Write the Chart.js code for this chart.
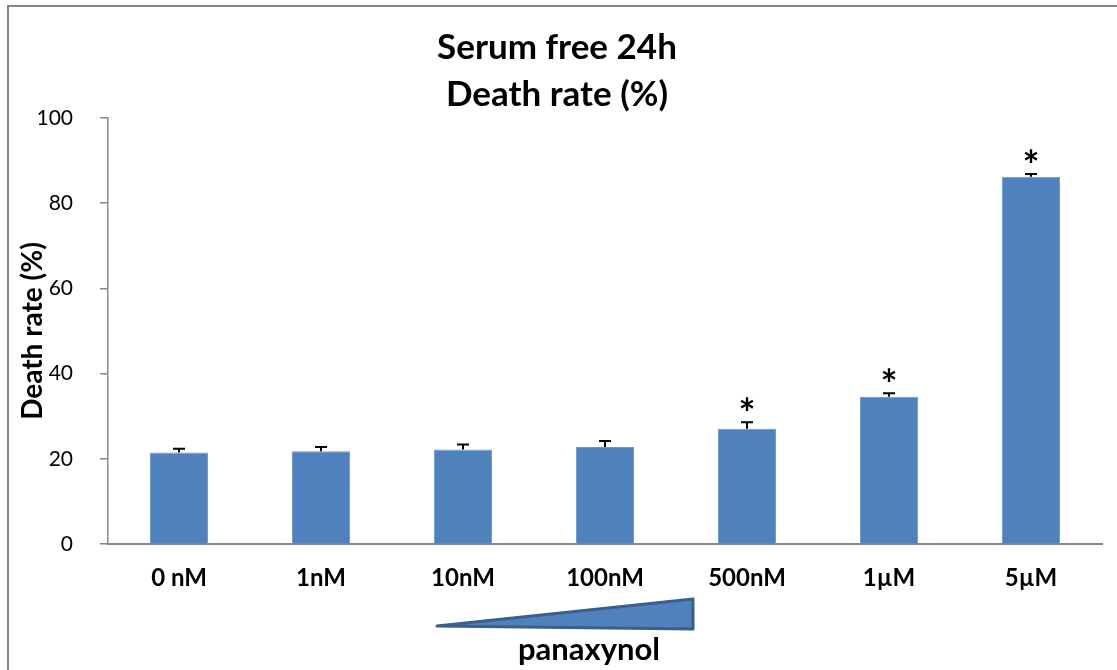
<!DOCTYPE html>
<html>
<head>
<meta charset="utf-8">
<script src="https://cdn.jsdelivr.net/npm/chart.js@4"></script>
<style>
  body { margin: 0; background: #fff; }
  canvas { display: block; }
</style>
</head>
<body>
<canvas id="deathChart" width="1117" height="670"></canvas>
<script>
// data
const categories = ['0 nM', '1nM', '10nM', '100nM', '500nM', '1µM', '5µM'];
const deathRate = [21.5, 21.8, 22.2, 22.8, 27.1, 34.6, 86.2];
const errorSD = [0.9, 1.0, 1.2, 1.4, 1.5, 0.8, 0.6];
const significant = [false, false, false, false, true, true, true];
const yTicks = [0, 20, 40, 60, 80, 100];

const FONT = 'Lato, "Open Sans", sans-serif';

// error bars + stars on top of each bar
const errorBars = {
    id: 'errorBars',
    afterDatasetsDraw(chart) {
        const c = chart.ctx;
        const y = chart.scales.y;
        const meta = chart.getDatasetMeta(0);
        c.save();
        c.strokeStyle = '#000';
        c.lineWidth = 2;
        meta.data.forEach((bar, i) => {
            const top = y.getPixelForValue(deathRate[i]);
            const cap = y.getPixelForValue(deathRate[i] + errorSD[i]);
            c.beginPath();
            c.moveTo(bar.x, top);
            c.lineTo(bar.x, cap);
            c.moveTo(bar.x - 6, cap);
            c.lineTo(bar.x + 6, cap);
            c.stroke();
            if (significant[i]) {
                c.font = 'bold 40px ' + FONT;
                c.fillStyle = '#000';
                c.textAlign = 'center';
                const m = c.measureText('*');
                const base = cap - 18 + (m.actualBoundingBoxAscent - m.actualBoundingBoxDescent) / 2;
                c.fillText('*', bar.x, base);
            }
        });
        c.restore();
    }
};

// outer frame, dose triangle and "panaxynol" label
const decorations = {
    id: 'decorations',
    afterDraw(chart) {
        const c = chart.ctx;
        c.save();
        c.strokeStyle = '#888';
        c.lineWidth = 2;
        c.beginPath();
        c.moveTo(8, 670);
        c.lineTo(8, 6);
        c.lineTo(1117, 6);
        c.stroke();

        c.beginPath();
        c.moveTo(437, 626);
        c.lineTo(693, 599);
        c.lineTo(693, 629);
        c.closePath();
        c.fillStyle = '#4f81bd';
        c.fill();
        c.strokeStyle = '#3a5f8c';
        c.lineWidth = 3;
        c.lineJoin = 'round';
        c.stroke();

        c.fillStyle = '#000';
        c.font = 'bold 31px ' + FONT;
        c.textAlign = 'center';
        c.textBaseline = 'middle';
        c.fillText('panaxynol', 589, 650);
        c.restore();
    }
};

const ctx = document.getElementById('deathChart').getContext('2d');
new Chart(ctx, {
    type: 'bar',
    data: {
        labels: categories,
        datasets: [{
            label: 'Death rate (%)',
            data: deathRate,
            backgroundColor: '#4f81bd',
            borderColor: '#6b97cc',
            borderWidth: 1,
            barPercentage: 0.41,
            categoryPercentage: 1.0
        }]
    },
    options: {
        responsive: false,
        animation: false,
        layout: { padding: { left: 12, right: 15, bottom: 65, top: 0 } },
        plugins: {
            legend: { display: false },
            tooltip: { enabled: false },
            title: {
                display: true,
                text: ['Serum free 24h', 'Death rate (%)'],
                color: '#000',
                font: { family: FONT, size: 35, weight: 'bold', lineHeight: 1.34 },
                padding: { top: 24, bottom: 0 }
            }
        },
        scales: {
            x: {
                grid: { display: false },
                border: { display: true, color: '#878787', width: 2 },
                ticks: {
                    color: '#000',
                    padding: 12,
                    font: { family: FONT, size: 24, weight: 'bold' }
                }
            },
            y: {
                min: 0,
                max: 100,
                afterBuildTicks(axis) {
                    axis.ticks = yTicks.map(v => ({ value: v }));
                },
                afterFit(axis) {
                    axis.width = 96;
                },
                grid: {
                    drawOnChartArea: false,
                    drawTicks: true,
                    tickLength: 8,
                    color: '#878787',
                    lineWidth: 1.5
                },
                border: { display: true, color: '#878787', width: 1.5 },
                ticks: {
                    color: '#000',
                    padding: 27,
                    font: { family: FONT, size: 21 }
                },
                title: {
                    display: true,
                    text: 'Death rate (%)',
                    color: '#000',
                    font: { family: FONT, size: 28, weight: 'bold' },
                    padding: { top: 4, bottom: 0 }
                }
            }
        }
    },
    plugins: [errorBars, decorations]
});
</script>
</body>
</html>
